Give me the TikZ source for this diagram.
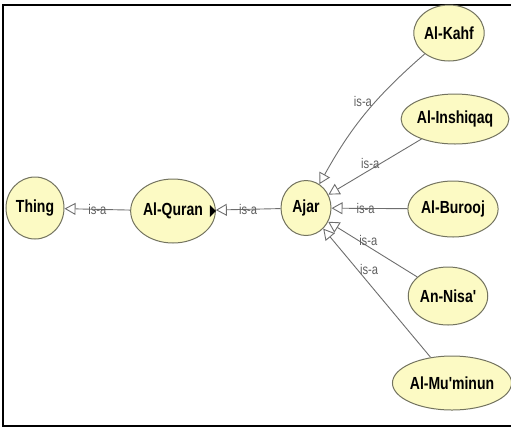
\documentclass[tikz,border=0pt]{standalone}
\usepackage{fontspec}
\usepackage{tikz}
\usepackage{xcolor}
\usetikzlibrary{shapes.geometric, arrows.meta, positioning}
\newfontfamily\graffont{Liberation Sans}[FakeStretch=0.8]
\definecolor{cNode}{RGB}{252,250,196}
\definecolor{cBorder}{RGB}{115,115,95}
\definecolor{cEdge}{RGB}{110,110,110}
\tikzset{
	concept/.style={ellipse, draw=cBorder, fill=cNode, line width=1pt, inner sep=0pt, text centered, font=\graffont\bfseries\fontsize{17.5}{19}\selectfont},
	isa/.style={-{Triangle[open, length=11pt, width=12pt]}, draw=cEdge, line width=0.9pt},
	% edge label
	lbl/.style={text=cEdge!85!black, inner sep=1pt, font=\graffont\fontsize{14}{15}\selectfont},
}
\begin{document}
\begin{tikzpicture}[x=1pt, y=-1pt]
	\useasboundingbox (0,0) rectangle (511,432);
	\draw[line width=2pt] (511,5) -- (3,5) -- (3,426) -- (511,426);

	\node[concept, minimum width=58pt, minimum height=62pt] (thing) at (35,208) {Thing};
	\node[concept, minimum width=77pt, minimum height=64pt] (quran) at (173,211) {Al-Quran};
	\node[concept, minimum width=50pt, minimum height=55pt] (ajar) at (306,208) {Ajar};
	\node[concept, minimum width=62pt, minimum height=56pt] (kahf) at (449,33) {Al-Kahf};
	\node[concept, minimum width=92pt, minimum height=50pt] (inshiqaq) at (455,119) {Al-Inshiqaq};
	\node[concept, minimum width=80pt, minimum height=56pt] (burooj) at (453,209) {Al-Burooj};
	\node[concept, minimum width=64pt, minimum height=58pt] (nisa) at (448,296) {An-Nisa'};
	\node[concept, minimum width=100pt, minimum height=54pt] (muminun) at (452,383) {Al-Mu'minun};

	% expand marker
	\fill (quran.east) ++(-6,-6) -- ++(6,6) -- ++(-6,6) -- cycle;

	\draw[isa] (quran) -- node[lbl] {is-a} (thing);
	\draw[isa] (ajar) -- node[lbl] {is-a} (quran);
	\draw[isa] (kahf) to[bend right=10] node[lbl, pos=0.4, left=2pt] {is-a} (ajar);
	\draw[isa] (inshiqaq) -- node[lbl, pos=0.55, above] {is-a} (ajar);
	\draw[isa] (burooj) -- node[lbl, pos=0.55] {is-a} (ajar);
	\draw[isa] (nisa) -- node[lbl, pos=0.55, above] {is-a} (ajar);
	\draw[isa] (muminun) -- node[lbl, pos=0.68, right=1pt] {is-a} (ajar);
\end{tikzpicture}
\end{document}
